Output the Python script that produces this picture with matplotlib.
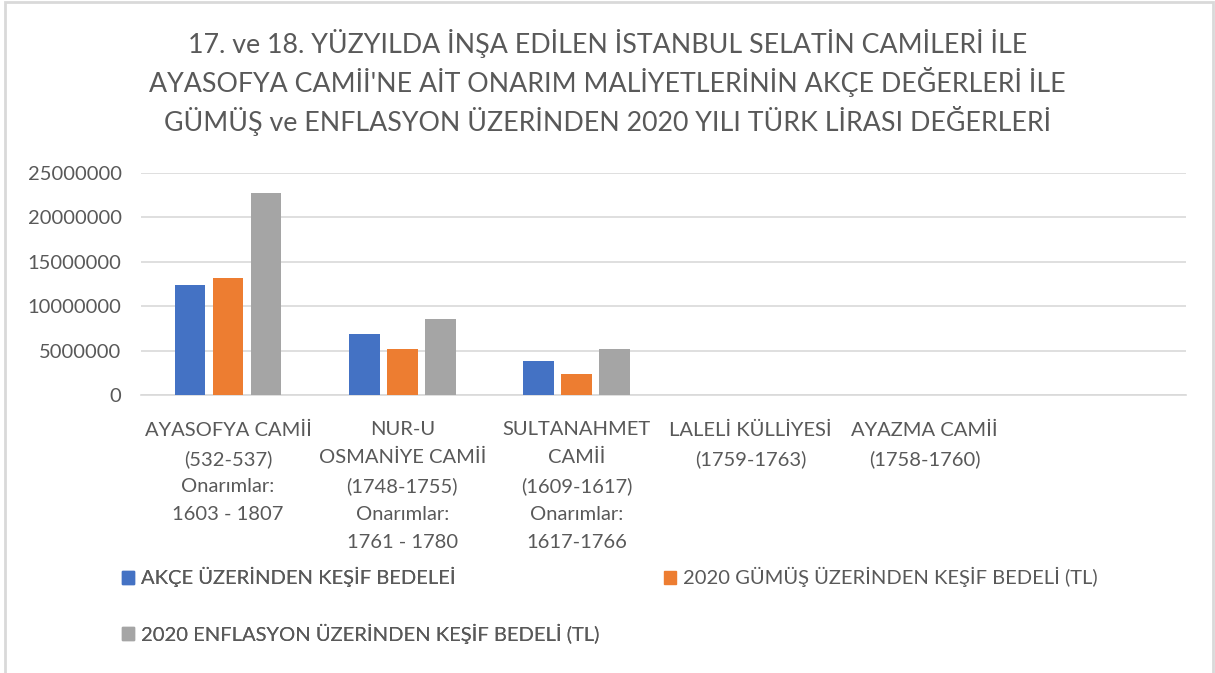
import numpy as np
import matplotlib.pyplot as plt
from matplotlib.patches import Rectangle, Patch

plt.rcParams['font.family'] = ['Lato', 'DejaVu Sans']

# data
categories = [
    "AYASOFYA CAMİİ\n(532-537)\nOnarımlar:\n1603 - 1807",
    "NUR-U\nOSMANİYE CAMİİ\n(1748-1755)\nOnarımlar:\n1761 - 1780",
    "SULTANAHMET\nCAMİİ\n(1609-1617)\nOnarımlar:\n1617-1766",
    "LALELİ KÜLLİYESİ\n(1759-1763)",
    "AYAZMA CAMİİ\n(1758-1760)",
    "",
]
akce = [12410000, 6820000, 3790000, np.nan, np.nan, np.nan]
gumus = [13120000, 5210000, 2320000, np.nan, np.nan, np.nan]
enflasyon = [22750000, 8510000, 5210000, np.nan, np.nan, np.nan]

series_names = [
    "AKÇE ÜZERİNDEN KEŞİF BEDELEİ",
    "2020 GÜMÜŞ ÜZERİNDEN KEŞİF BEDELİ (TL)",
    "2020 ENFLASYON ÜZERİNDEN KEŞİF BEDELİ (TL)",
]
colors = ["#4472C4", "#ED7D31", "#A5A5A5"]
yticks = [0, 5000000, 10000000, 15000000, 20000000, 25000000]

title = ("17. ve 18. YÜZYILDA İNŞA EDİLEN İSTANBUL SELATİN CAMİLERİ İLE\n"
         "AYASOFYA CAMİİ'NE AİT ONARIM MALİYETLERİNİN AKÇE DEĞERLERİ İLE\n"
         "GÜMÜŞ ve ENFLASYON ÜZERİNDEN 2020 YILI TÜRK LİRASI DEĞERLERİ")

txt = "#595959"
grid = "#D9D9D9"
fs = 14.5

fig = plt.figure(figsize=(12.15, 6.73), dpi=100)
ax = fig.add_axes([141 / 1215, 1 - 395 / 673, (1186 - 141) / 1215, (395 - 172.7) / 673])

x = np.arange(len(categories))
w = 0.176
step = 0.218
for i, (vals, c) in enumerate(zip([akce, gumus, enflasyon], colors)):
    ax.bar(x + (i - 1) * step, vals, width=w, color=c, zorder=3)

ax.set_xlim(-0.5, len(categories) - 0.5)
ax.set_ylim(0, 25000000)
ax.set_yticks(yticks)
ax.set_yticklabels([str(v) for v in yticks])
ax.set_xticks(x)
ax.set_xticklabels(categories, linespacing=1.76)
ax.tick_params(axis='both', length=0, labelsize=fs, colors=txt)
ax.tick_params(axis='y', pad=14)
ax.tick_params(axis='x', pad=19)
ax.grid(axis='y', color=grid, lw=1.2, zorder=0)
for s in ['top', 'right', 'left']:
    ax.spines[s].set_visible(False)
ax.spines['bottom'].set_color(grid)
ax.spines['bottom'].set_linewidth(1.2)

fig.text(0.5, 1 - 82.5 / 673, title, ha='center', va='center', fontsize=19.3,
         color=txt, linespacing=1.34)

# legend, laid out like the Excel original
h = [Patch(color=c) for c in colors]
opts = dict(loc='upper left', frameon=False, fontsize=fs, labelcolor=txt,
            handlelength=0.62, handleheight=0.62, handletextpad=0.3,
            borderaxespad=0, borderpad=0)
leg1 = fig.legend([h[0], h[2]], [series_names[0], series_names[2]],
                  bbox_to_anchor=(122 / 1215, 1 - 567 / 673),
                  labelspacing=1.8, **opts)
leg2 = fig.legend([h[1]], [series_names[1]],
                  bbox_to_anchor=(664 / 1215, 1 - 567 / 673), **opts)
fig.add_artist(leg1)

# chart area border
fig.patches.append(Rectangle((5 / 1215, -0.05), 1208 / 1215, 1.05 - 2 / 673,
                             transform=fig.transFigure, fill=False,
                             edgecolor=grid, lw=2))

fig.savefig("out.png", dpi=100)
